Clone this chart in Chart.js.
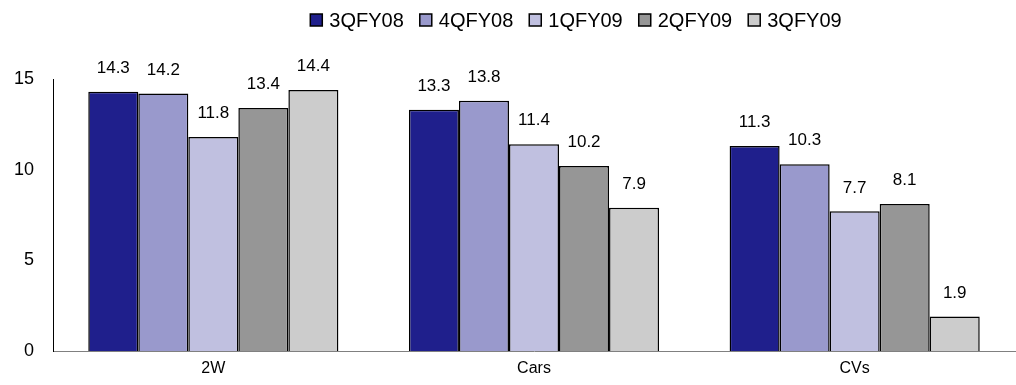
<!DOCTYPE html>
<html>
<head>
<meta charset="utf-8">
<script src="https://cdn.jsdelivr.net/npm/chart.js@4.4.1/dist/chart.umd.min.js"></script>
<style>
  html, body { margin: 0; padding: 0; background: #fff; }
  #wrap { width: 1016px; height: 385px; }
</style>
</head>
<body>
<div id="wrap"><canvas id="myChart"></canvas></div>
<script>
// categories and quarterly series
var categories = ["2W", "Cars", "CVs"];
var seriesNames = ["3QFY08", "4QFY08", "1QFY09", "2QFY09", "3QFY09"];
var q3fy08 = [14.3, 13.3, 11.3];
var q4fy08 = [14.2, 13.8, 10.3];
var q1fy09 = [11.8, 11.4, 7.7];
var q2fy09 = [13.4, 10.2, 8.1];
var q3fy09 = [14.4, 7.9, 1.9];
var yTicks = [0, 5, 10, 15];

var seriesValues = [q3fy08, q4fy08, q1fy09, q2fy09, q3fy09];
var barColors = ["#1F1F8C", "#9999CC", "#C0C0E0", "#969696", "#CCCCCC"];

var fontFamily = "'Liberation Sans', Arial, sans-serif";

// value labels above each bar
var barLabels = {
  id: "barLabels",
  afterDatasetsDraw: function(chart) {
    var ctx = chart.ctx;
    ctx.save();
    ctx.font = "17px " + fontFamily;
    ctx.fillStyle = "#000";
    ctx.textAlign = "center";
    ctx.textBaseline = "bottom";
    chart.data.datasets.forEach(function(ds, i) {
      chart.getDatasetMeta(i).data.forEach(function(bar, j) {
        ctx.fillText(ds.data[j].toFixed(1), bar.x, bar.y - 15);
      });
    });
    ctx.restore();
  }
};

// legend row across the top, centred a little right of the plot
var topLegend = {
  id: "topLegend",
  afterDraw: function(chart) {
    var ctx = chart.ctx;
    var box = 12, gap = 7, spacing = 16, centerX = 576, midY = 20;
    ctx.save();
    ctx.font = "20px " + fontFamily;
    var items = chart.data.datasets.map(function(ds) {
      return { text: ds.label, color: ds.backgroundColor, w: ctx.measureText(ds.label).width };
    });
    var total = items.reduce(function(s, it) { return s + box + gap + it.w; }, 0) + spacing * (items.length - 1);
    var x = centerX - total / 2;
    ctx.textBaseline = "middle";
    ctx.textAlign = "left";
    items.forEach(function(it) {
      ctx.fillStyle = it.color;
      ctx.fillRect(x, midY - box / 2, box, box);
      ctx.strokeStyle = "#000";
      ctx.lineWidth = 1.5;
      ctx.strokeRect(x, midY - box / 2, box, box);
      ctx.fillStyle = "#000";
      ctx.fillText(it.text, x + box + gap, midY + 1);
      x += box + gap + it.w + spacing;
    });
    ctx.restore();
  }
};

new Chart("myChart", {
  type: "bar",
  data: {
    labels: categories,
    datasets: seriesNames.map(function(name, i) {
      return {
        label: name,
        data: seriesValues[i],
        backgroundColor: barColors[i],
        borderColor: "#000",
        borderWidth: 1.5,
        barPercentage: 1,
        categoryPercentage: 0.78
      };
    })
  },
  options: {
    responsive: true,
    maintainAspectRatio: false,
    animation: false,
    layout: { padding: { top: 79, right: 1, left: 0, bottom: 0 } },
    plugins: {
      legend: { display: false },
      tooltip: { enabled: false }
    },
    scales: {
      x: {
        afterFit: function(scale) { scale.height = 34; },
        grid: { display: false, drawTicks: false },
        border: { color: "#808080", width: 1 },
        ticks: { font: { family: fontFamily, size: 16 }, color: "#000", padding: 8 }
      },
      y: {
        min: 0,
        max: 15,
        afterBuildTicks: function(scale) {
          scale.ticks = yTicks.map(function(v) { return { value: v }; });
        },
        afterFit: function(scale) { scale.width = 53; },
        grid: { display: false, drawTicks: false },
        border: { color: "#000", width: 1 },
        ticks: { font: { family: fontFamily, size: 18 }, color: "#000", padding: 19 }
      }
    }
  },
  plugins: [barLabels, topLegend]
});
</script>
</body>
</html>
